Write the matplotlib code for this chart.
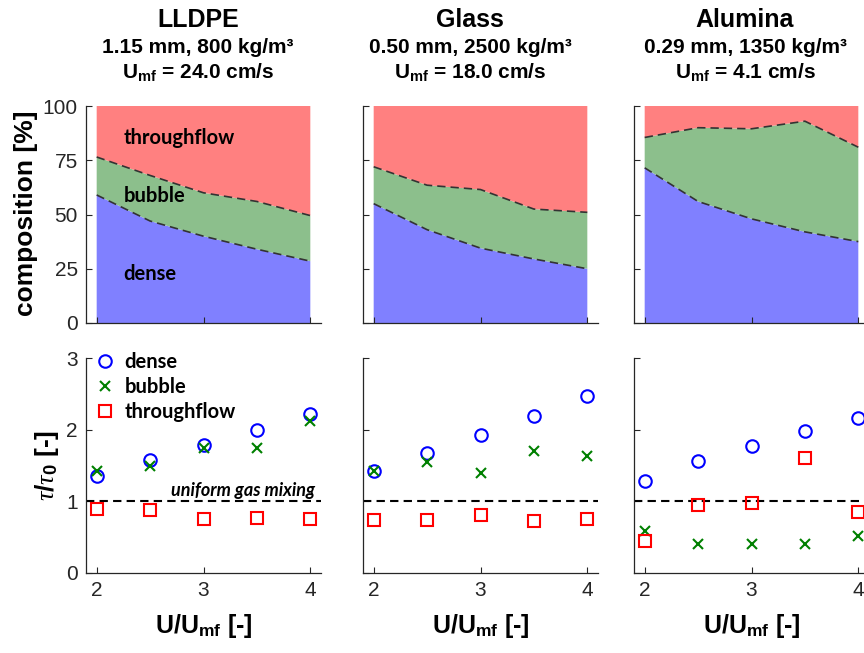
import matplotlib
matplotlib.use("Agg")
import matplotlib.pyplot as plt
import numpy as np

plt.rcParams['font.family'] = ['Liberation Sans', 'DejaVu Sans']
plt.rcParams['mathtext.fontset'] = 'custom'
plt.rcParams['mathtext.rm'] = 'Liberation Sans:bold'
plt.rcParams['mathtext.bf'] = 'Liberation Sans:bold'
plt.rcParams['mathtext.it'] = 'Liberation Serif:italic'

# ---- data ----
u_ratio = [2, 2.5, 3, 3.5, 4]

materials = ['LLDPE', 'Glass', 'Alumina']
props = ['1.15 mm, 800 kg/m³', '0.50 mm, 2500 kg/m³', '0.29 mm, 1350 kg/m³']
umf = ['24.0', '18.0', '4.1']

# composition [%]
dense_pct = [[59, 47, 40, 34, 28.5],
             [55, 43, 34.5, 29.5, 25],
             [71.5, 56, 48, 42, 37.5]]
bubble_pct = [[17.5, 21, 20, 22, 21],
              [17, 20.5, 27, 23, 26],
              [14, 34, 41.5, 51, 43.5]]
through_pct = [[23.5, 32, 40, 44, 50.5],
               [28, 36.5, 38.5, 47.5, 49],
               [14.5, 10, 10.5, 7, 19]]

# residence time ratio tau/tau0
tau_dense = [[1.35, 1.58, 1.79, 1.99, 2.22],
             [1.42, 1.67, 1.93, 2.19, 2.47],
             [1.29, 1.56, 1.77, 1.98, 2.16]]
tau_bubble = [[1.42, 1.50, 1.75, 1.74, 2.12],
              [1.43, 1.55, 1.39, 1.70, 1.63],
              [0.58, 0.41, 0.41, 0.40, 0.52]]
tau_through = [[0.89, 0.875, 0.75, 0.77, 0.76],
               [0.745, 0.745, 0.81, 0.73, 0.755],
               [0.45, 0.95, 0.98, 1.61, 0.85]]

c_dense = '#8080FF'
c_bubble = '#8CBF8C'
c_through = '#FF8080'
grey = '#262626'

fig = plt.figure(figsize=(8.64, 6.53), dpi=100)

lefts = [86, 363, 634]
title_x = [198, 470, 745]
W, H = 864., 653.
aw = 235

def style(ax):
    for s in ['top', 'right']:
        ax.spines[s].set_visible(False)
    for s in ['left', 'bottom']:
        ax.spines[s].set_color(grey)
        ax.spines[s].set_linewidth(0.9)
    ax.tick_params(direction='in', length=4, color=grey, labelcolor=grey,
                   labelsize=15, width=0.8, pad=6)
    ax.set_xlim(1.9, 4.1)
    ax.set_xticks([2, 3, 4])

for i in range(3):
    # top: composition
    ax = fig.add_axes([lefts[i] / W, (H - 323) / H, aw / W, 217 / H])
    style(ax)
    ax.stackplot(u_ratio, dense_pct[i], bubble_pct[i], through_pct[i],
                 colors=[c_dense, c_bubble, c_through], linewidth=0)
    cum = np.cumsum([dense_pct[i], bubble_pct[i]], axis=0)
    ax.plot(u_ratio, cum[0], color='#333333', lw=1.2, dashes=(5, 3))
    ax.plot(u_ratio, cum[1], color='#333333', lw=1.2, dashes=(5, 3))
    ax.set_ylim(0, 100)
    ax.set_yticks([0, 25, 50, 75, 100])
    ax.set_xticklabels([])
    if i == 0:
        ax.set_ylabel('composition [%]', fontsize=19, fontweight='bold')
        ax.yaxis.label.set_va('center')
        ax.yaxis.set_label_coords(-0.255, 0.505)
        for lab, yy in [('throughflow', 82.5), ('bubble', 55.6), ('dense', 19.8)]:
            ax.text(2.25, yy, lab, family='Lato', fontweight='bold', fontsize=14.5,
                    va='baseline', ha='left')
    else:
        ax.set_yticklabels([])

    fig.text(title_x[i] / W, 1 - 27 / H, materials[i], ha='center', va='baseline',
             fontsize=18, fontweight='bold')
    fig.text(title_x[i] / W, 1 - 53 / H, props[i], ha='center', va='baseline',
             fontsize=15, fontweight='bold')
    fig.text(title_x[i] / W, 1 - 78 / H, r'U$_\mathbf{mf}$ = ' + umf[i] + ' cm/s',
             ha='center', va='baseline', fontsize=15, fontweight='bold')

    # bottom: tau / tau0
    ax2 = fig.add_axes([lefts[i] / W, (H - 573) / H, aw / W, 215 / H])
    style(ax2)
    ax2.axhline(1, color='k', lw=1.5, dashes=(4, 2.5))
    ax2.plot(u_ratio, tau_dense[i], ls='none', marker='o', ms=9, mfc='none',
             mec='#0000FF', mew=1.5, label='dense')
    ax2.plot(u_ratio, tau_bubble[i], ls='none', marker='x', ms=7,
             mec='#008000', mew=1.5, label='bubble')
    ax2.plot(u_ratio, tau_through[i], ls='none', marker='s', ms=8, mfc='none',
             mec='#FF0000', mew=1.5, label='throughflow')
    ax2.set_ylim(0, 3)
    ax2.set_yticks([0, 1, 2, 3])
    ax2.set_xlabel(r'U/U$_\mathbf{mf}$ [-]', fontsize=18, fontweight='bold')
    ax2.xaxis.label.set_va('baseline')
    ax2.xaxis.set_label_coords(0.5, -0.279)
    if i == 0:
        ax2.set_ylabel(r'$\tau/\tau_0$ [-]', fontsize=19, fontweight='bold')
        ax2.yaxis.label.set_va('center')
        ax2.yaxis.set_label_coords(-0.166, 0.5)
        ax2.legend(loc='upper left', bbox_to_anchor=(0.04, 1.03), frameon=False,
                   prop={'family': 'Lato', 'weight': 'bold', 'size': 14.5},
                   handlelength=1.0, handletextpad=0.45, borderpad=0,
                   borderaxespad=0, labelspacing=0.25)
        ax2.text(4.047, 1.08, 'uniform gas mixing', family='Lato', fontweight='bold',
                 style='italic', fontsize=13, ha='right', va='baseline')
    else:
        ax2.set_yticklabels([])

fig.savefig('out.png', dpi=100)
